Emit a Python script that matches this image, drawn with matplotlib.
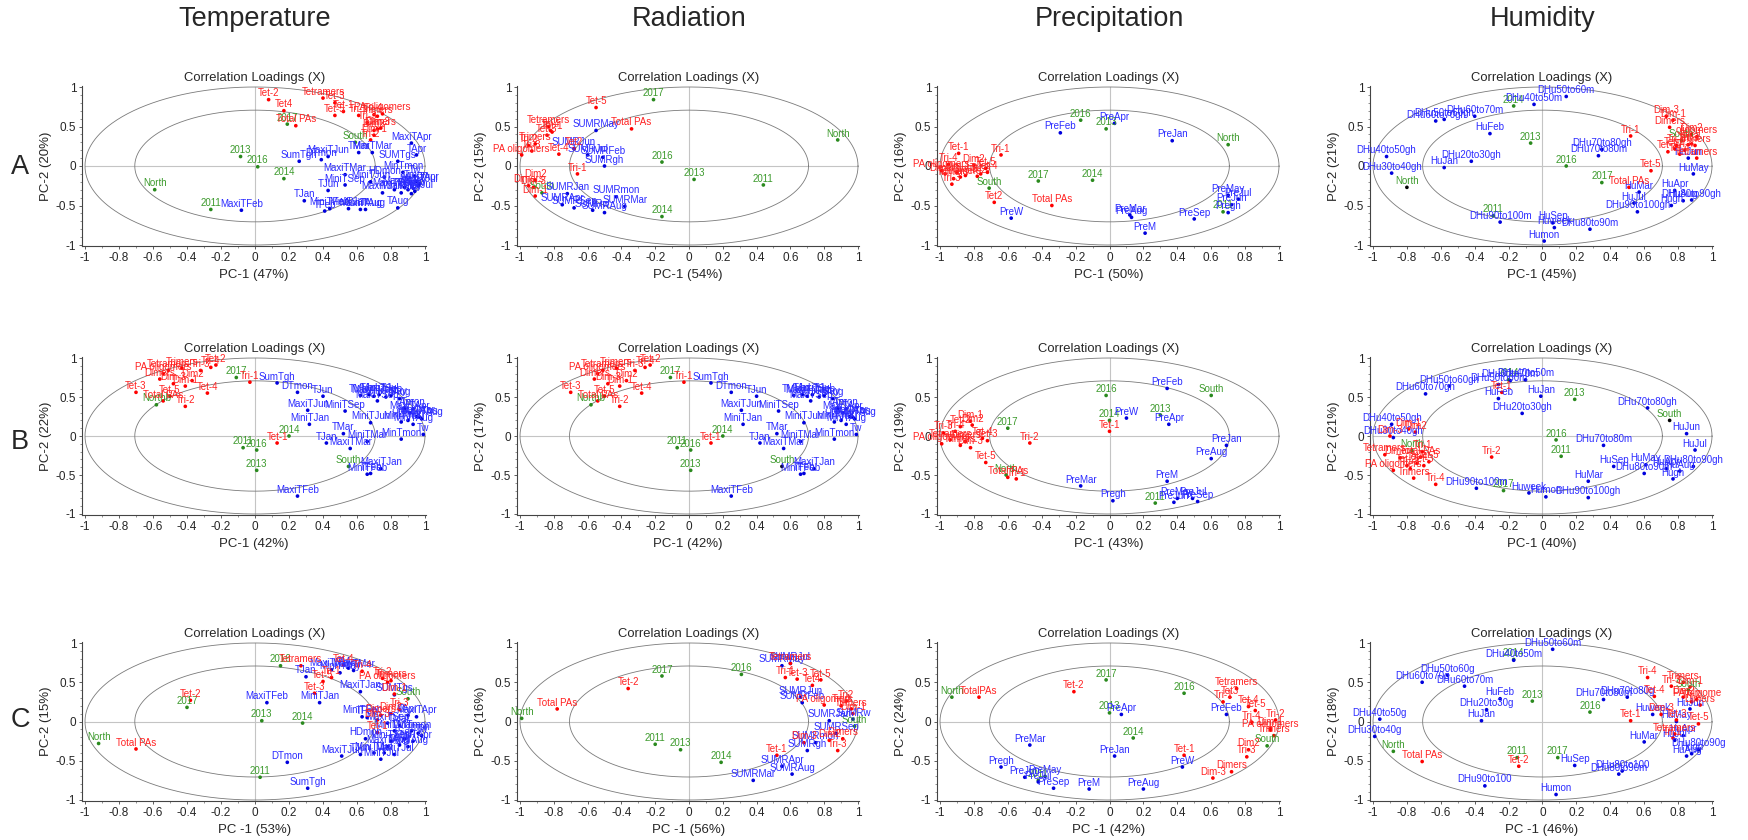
import matplotlib
matplotlib.use("Agg")
import matplotlib.pyplot as plt
import numpy as np

plt.rcParams['font.family'] = ['Liberation Sans', 'DejaVu Sans']
plt.rcParams['axes.unicode_minus'] = False

# ---------------- data ----------------
columns = ["Temperature", "Radiation", "Precipitation", "Humidity"]
rows = ["A", "B", "C"]
pc1_pct = [[47, 54, 50, 45], [42, 42, 43, 40], [53, 56, 42, 46]]
pc2_pct = [[20, 15, 16, 21], [22, 17, 19, 21], [15, 16, 24, 18]]
pc1_prefix = ["PC-1", "PC-1", "PC -1"]

# ---- Row A ----
A_T_green = [("North", -0.59, -0.30), ("2011", -0.26, -0.55), ("2013", -0.085, 0.12), ("2016", 0.016, -0.01),
             ("2014", 0.17, -0.16), ("2017", 0.19, 0.53), ("South", 0.59, 0.30)]
A_T_red = [("Tet-2", 0.08, 0.84), ("Tetramers", 0.40, 0.86), ("Tet-3", 0.47, 0.80), ("Tet4", 0.17, 0.70),
           ("Total PAs", 0.24, 0.51), ("Tet-1", 0.52, 0.69), ("Tet-5", 0.47, 0.64), ("Tri-1", 0.61, 0.64),
           ("Tri-4", 0.70, 0.65), ("Trimers", 0.72, 0.63), ("PA oligomers", 0.75, 0.66), ("Dimers", 0.74, 0.48),
           ("Dim-3", 0.72, 0.47), ("Dim2", 0.70, 0.45), ("Dim-1", 0.70, 0.39), ("Tri-2", 0.68, 0.33),
           ("Tri-3", 0.66, 0.55)]
A_T_blue = [("TJan", 0.29, -0.44), ("TFeb", 0.41, -0.57), ("TMar", 0.61, 0.17), ("TApr", 0.95, 0.14),
            ("TMay", 0.90, -0.30), ("TJun", 0.43, -0.31), ("TJul", 0.92, -0.35), ("TAug", 0.84, -0.53),
            ("TSep", 0.93, -0.28), ("MaxiTJan", 0.75, -0.34), ("MaxiTFeb", -0.08, -0.56), ("MaxiTMar", 0.53, -0.11),
            ("MaxiTApr", 0.92, 0.29), ("MaxiTMay", 0.88, -0.27), ("MaxiTJun", 0.43, 0.12), ("MaxiTJul", 0.96, -0.25),
            ("MaxiTAug", 0.62, -0.55), ("MaxiTSep", 0.82, -0.30), ("MiniTJan", 0.55, -0.54), ("MiniTFeb", 0.44, -0.54),
            ("MiniTMar", 0.69, 0.17), ("MiniTApr", 0.97, -0.22), ("MiniTMay", 0.86, -0.34), ("MiniTJun", 0.68, -0.20),
            ("MiniTJul", 0.94, -0.32), ("MiniTAug", 0.65, -0.55), ("MiniTSep", 0.53, -0.24), ("SumTgh", 0.26, 0.06),
            ("SUMTgs", 0.84, 0.06), ("DTmon", 0.39, 0.08), ("HDmon", 0.76, -0.14), ("MinTmon", 0.87, -0.08),
            ("Tmon", 0.95, -0.20), ("Tw", 0.94, -0.13)]

A_R_green = [("2017", -0.21, 0.84), ("North", 0.88, 0.33), ("2016", -0.16, 0.05), ("2013", 0.03, -0.17),
             ("2011", 0.44, -0.24), ("2014", -0.16, -0.64), ("South", -0.87, -0.34)]
A_R_red = [("Tet-5", -0.55, 0.74), ("Total PAs", -0.34, 0.47), ("Tetramers", -0.83, 0.50), ("Tri-4", -0.82, 0.45),
           ("Tet-1", -0.81, 0.43), ("Tet-3", -0.84, 0.39), ("Trimers", -0.91, 0.28), ("Tri-2", -0.95, 0.26),
           ("PA oligomers", -0.99, 0.14), ("Tri-3", -0.93, 0.19), ("Tet-4", -0.77, 0.15), ("Tet2", -0.68, 0.22),
           ("Tri-1", -0.66, -0.10), ("Dim2", -0.91, -0.18), ("Dimers", -0.95, -0.25), ("Dim-3", -0.92, -0.27),
           ("Dim-1", -0.91, -0.38)]
A_R_blue = [("SUMRMay", -0.55, 0.45), ("SUMRJun", -0.68, 0.22), ("SUMRFeb", -0.51, 0.11), ("SUMRJul", -0.60, 0.14),
            ("SUMRgh", -0.50, 0.0), ("SUMRJan", -0.72, -0.35), ("SUMRmon", -0.43, -0.39), ("SUMRMar", -0.38, -0.51),
            ("SUMRAug", -0.50, -0.59), ("SUMRApr", -0.75, -0.49), ("SUMRSep", -0.68, -0.53), ("SUMRw", -0.57, -0.56)]

A_P_green = [("2016", -0.17, 0.58), ("2013", -0.02, 0.47), ("North", 0.70, 0.27), ("2017", -0.42, -0.19),
             ("2014", -0.10, -0.18), ("South", -0.71, -0.28), ("2011", 0.67, -0.58)]
A_P_red = [("Tet-1", -0.89, 0.16), ("Tri-1", -0.64, 0.14), ("Tri-4", -0.95, 0.02), ("Dim2", -0.80, 0.01),
           ("Tet-5", -0.73, -0.03), ("Tet-4", -0.72, -0.08), ("PA oligomers", -0.99, -0.06), ("Tetramers", -0.88, -0.14),
           ("Tri-3", -0.93, -0.23), ("Tet2", -0.68, -0.46), ("Total PAs", -0.34, -0.50), ("Dimers", -0.97, -0.10),
           ("Dim-1", -0.90, -0.08), ("Dim-3", -0.85, -0.12), ("Tri-2", -0.78, -0.13), ("Trimers", -0.92, -0.16),
           ("Tet-3", -0.76, -0.10)]
A_P_blue = [("PreApr", 0.03, 0.54), ("PreFeb", -0.29, 0.42), ("PreJan", 0.37, 0.32), ("PreMay", 0.70, -0.37),
            ("PreJul", 0.76, -0.42), ("PreJun", 0.72, -0.49), ("Pregh", 0.70, -0.59), ("PreSep", 0.50, -0.67),
            ("PreMar", 0.12, -0.62), ("PreAug", 0.13, -0.65), ("PreM", 0.21, -0.85), ("PreW", -0.58, -0.66)]

A_H_green = [("2014", -0.17, 0.76), ("2013", -0.07, 0.29), ("2016", 0.14, 0.0), ("2017", 0.35, -0.21),
             ("South", 0.82, 0.32), ("2011", -0.29, -0.63), ("North", -0.80, -0.27)]
A_H_red = [("Dim-3", 0.73, 0.63), ("Dim-1", 0.77, 0.58), ("Dimers", 0.75, 0.49), ("Tri-1", 0.52, 0.38),
           ("oligomers", 0.91, 0.37), ("Dim2", 0.88, 0.40), ("Tri-2", 0.88, 0.28), ("Trimers", 0.90, 0.26),
           ("Tet-3", 0.86, 0.27), ("Tri-3", 0.79, 0.26), ("Tet-2", 0.74, 0.18), ("Tet-4", 0.81, 0.15),
           ("Tri-4", 0.84, 0.20), ("Tetramers", 0.91, 0.10), ("Tet-5", 0.64, -0.06), ("Total PAs", 0.51, -0.27),
           ("Tet-1", 0.78, 0.22)]
A_H_blue = [("DHu50to60m", 0.14, 0.88), ("DHu40to50m", -0.05, 0.78), ("DHu50to60gh", -0.58, 0.59),
            ("DHu60to70gh", -0.63, 0.57), ("DHu60to70m", -0.40, 0.63), ("HuFeb", -0.31, 0.41),
            ("DHu40to50gh", -0.92, 0.12), ("DHu30to40gh", -0.89, -0.09), ("HuJan", -0.58, -0.02),
            ("DHu20to30gh", -0.42, 0.06), ("DHu70to80gh", 0.35, 0.21), ("DHu70to80m", 0.33, 0.13),
            ("HuMay", 0.89, -0.10), ("HuJun", 0.86, 0.10), ("HuMar", 0.57, -0.33), ("HuApr", 0.78, -0.31),
            ("HuJul", 0.54, -0.47), ("DHu90to100gh", 0.56, -0.58), ("DHu80to90gh", 0.88, -0.43),
            ("HuAug", 0.83, -0.44), ("Hugh", 0.76, -0.50), ("HuSep", 0.06, -0.72), ("Huweek", 0.07, -0.78),
            ("DHu80to90m", 0.28, -0.80), ("DHu90to100m", -0.25, -0.71), ("Humon", 0.01, -0.95)]

# ---- Row B ----
B_T_green = [("2017", -0.11, 0.75), ("Northb", -0.58, 0.40), ("2014", 0.20, 0.0), ("2011", -0.07, -0.15),
             ("2016", 0.01, -0.18), ("2013", 0.01, -0.44), ("South", 0.55, -0.39)]
B_T_red = [("Tet-2", -0.23, 0.91), ("Tri-4", -0.26, 0.88), ("Trimers", -0.43, 0.87), ("Tetramers", -0.51, 0.84),
           ("PA oligomers", -0.54, 0.80), ("Dimers", -0.56, 0.73), ("Dim2", -0.37, 0.71), ("Dim-3", -0.48, 0.67),
           ("Dim-1", -0.41, 0.64), ("Tet-4", -0.28, 0.55), ("Tet-3", -0.70, 0.56), ("Tet-5", -0.50, 0.51),
           ("Total PAs", -0.54, 0.45), ("Tri-2", -0.41, 0.38), ("Tri-1", -0.03, 0.69), ("Tet-1", 0.13, -0.09),
           ("Tri-3", -0.32, 0.84)]
B_T_blue = [("SumTgh", 0.13, 0.68), ("DTmon", 0.25, 0.56), ("TJun", 0.40, 0.51), ("MaxiTJun", 0.31, 0.33),
            ("MiniTSep", 0.53, 0.32), ("MiniTJan", 0.32, 0.15), ("TMar", 0.52, 0.03), ("TJan", 0.42, -0.09),
            ("MaxiTMar", 0.56, -0.16), ("MiniTMar", 0.66, -0.07), ("MinTmon", 0.86, -0.04), ("Tw", 0.99, 0.02),
            ("MaxiTJan", 0.74, -0.42), ("TFeb", 0.68, -0.48), ("MiniTFeb", 0.66, -0.49), ("MaxiTFeb", 0.25, -0.77),
            ("TMay", 0.62, 0.52), ("TJul", 0.67, 0.53), ("MaxiTMay", 0.70, 0.51), ("MaxiTJul", 0.73, 0.53),
            ("MiniTMay", 0.77, 0.50), ("MaxiTSep", 0.72, 0.45), ("TSep", 0.80, 0.52), ("TAug", 0.85, 0.48),
            ("TApr", 0.88, 0.35), ("MaxiTApr", 0.91, 0.30), ("MiniTApr", 0.95, 0.25), ("Tmon", 0.93, 0.35),
            ("SUMTgs", 0.97, 0.24), ("HDmon", 0.90, 0.20), ("MiniTJul", 0.86, 0.18), ("MiniTAug", 0.93, 0.15),
            ("MaxiTAug", 0.98, 0.22), ("MiniTJun", 0.68, 0.17)]

B_P_green = [("2016", -0.02, 0.52), ("South", 0.60, 0.52), ("2013", 0.30, 0.27), ("2014", 0.0, 0.20),
             ("2017", -0.60, 0.10), ("North", -0.61, -0.50), ("2011", 0.27, -0.86)]
B_P_red = [("Dim-1", -0.82, 0.19), ("Dim2", -0.81, 0.14), ("Tet-2", -0.88, 0.12), ("Tri-4", -0.91, 0.06),
           ("Tri-3", -0.98, 0.04), ("Tet-4", -0.75, -0.03), ("Tet-3", -0.72, -0.06), ("PA oligomers", -0.99, -0.10),
           ("Tetramers", -0.94, -0.05), ("Trimers", -0.88, -0.12), ("Dimers", -0.85, -0.07), ("Dim-3", -0.82, -0.15),
           ("Tri-2", -0.47, -0.09), ("Tet-5", -0.73, -0.34), ("Tri-1", -0.55, -0.55), ("Total PAs", -0.60, -0.53),
           ("Tet-1", 0.0, 0.06)]
B_P_blue = [("PreFeb", 0.34, 0.61), ("PreW", 0.10, 0.23), ("PreApr", 0.35, 0.15), ("PreJan", 0.69, -0.12),
            ("PreAug", 0.60, -0.29), ("PreM", 0.34, -0.58), ("PreMar", -0.17, -0.64), ("Pregh", 0.02, -0.83),
            ("PreMay", 0.40, -0.80), ("PreJul", 0.49, -0.80), ("PreJun", 0.38, -0.85), ("PreSep", 0.52, -0.84)]

B_H_green = [("2014", -0.20, 0.72), ("2013", 0.19, 0.47), ("South", 0.75, 0.20), ("2016", 0.08, -0.05),
             ("2011", 0.11, -0.26), ("North", -0.77, -0.19), ("2017", -0.23, -0.70)]
B_H_red = [("Tet-1", -0.24, 0.56), ("Dim-1", -0.79, 0.09), ("Dim2", -0.75, 0.05), ("Tri-1", -0.71, -0.20),
           ("Tetramers", -0.93, -0.24), ("Dimers", -0.84, -0.28), ("Total PAs", -0.72, -0.27), ("Dim-3", -0.90, 0.0),
           ("PA oligomers", -0.88, -0.44), ("Trimers", -0.76, -0.54), ("Tri-4", -0.63, -0.62), ("Tri-2", -0.30, -0.27),
           ("Tet-3", -0.70, -0.38), ("Tet-2", -0.80, -0.38), ("Tet-4", -0.74, -0.35), ("Tet-5", -0.67, -0.33),
           ("Tri-3", -0.78, -0.42)]
B_H_blue = [("DHu40to50m", -0.10, 0.72), ("DHu50to60m", -0.26, 0.66), ("DHu60to70m", -0.19, 0.71),
            ("DHu50to60gh", -0.55, 0.64), ("DHu60to70gh", -0.69, 0.54), ("HuFeb", -0.26, 0.48),
            ("HuJan", -0.01, 0.51), ("DHu20to30gh", -0.12, 0.29), ("DHu70to80gh", 0.62, 0.36),
            ("DHu40to50gh", -0.89, 0.15), ("DHu30to40gh", -0.88, -0.02), ("HuJun", 0.85, 0.03),
            ("HuJul", 0.90, -0.18), ("DHu70to80m", 0.36, -0.12), ("HuSep", 0.42, -0.39), ("HuMay", 0.61, -0.37),
            ("DHu80to90m", 0.60, -0.48), ("DHu80to90gh", 0.89, -0.39), ("HuAug", 0.81, -0.45), ("Hugh", 0.77, -0.55),
            ("HuApr", 0.73, -0.42), ("HuMar", 0.27, -0.58), ("DHu90to100m", -0.39, -0.67), ("Huweek", -0.08, -0.73),
            ("Humon", 0.02, -0.78), ("DHu90to100gh", 0.27, -0.79)]

# ---- Row C ----
C_T_green = [("North", -0.92, -0.28), ("2017", -0.40, 0.18), ("2013", 0.04, 0.01), ("2014", 0.28, -0.02),
             ("2016", 0.15, 0.71), ("2011", 0.03, -0.71), ("South", 0.90, 0.29)]
C_T_red = [("Total PAs", -0.70, -0.35), ("Tet-2", -0.38, 0.27), ("Tetramers", 0.27, 0.71), ("Tet-4", 0.52, 0.72),
           ("Tet-5", 0.40, 0.51), ("Tri-1", 0.45, 0.56), ("Tet-3", 0.35, 0.36), ("Tri-4", 0.63, 0.64),
           ("Tri-2", 0.75, 0.55), ("PA oligomers", 0.78, 0.50), ("Trimers", 0.80, 0.52), ("Dim-1", 0.82, 0.35),
           ("Tri-3", 0.85, 0.15), ("Dimers", 0.74, 0.08), ("Dim-3", 0.72, 0.02), ("Tet-1", 0.72, -0.14),
           ("Dim2", 0.80, 0.10)]
C_T_blue = [("TJan", 0.30, 0.57), ("MaxiTMay", 0.45, 0.66), ("MiniTMay", 0.50, 0.62), ("MaxiTMar", 0.58, 0.65),
            ("TMay", 0.55, 0.68), ("MaxiTJan", 0.62, 0.38), ("MiniTJan", 0.38, 0.24), ("MaxiTFeb", 0.07, 0.24),
            ("SUMTgs", 0.82, 0.34), ("DTmon", 0.19, -0.52), ("SumTgh", 0.31, -0.85), ("MaxiTJun", 0.51, -0.44),
            ("HDmon", 0.65, -0.22), ("MiniTFeb", 0.63, 0.06), ("TFeb", 0.66, 0.05), ("MaxiTApr", 0.95, 0.06),
            ("TApr", 0.90, 0.08), ("MaxiTSep", 0.78, -0.02), ("TMar", 0.85, -0.05), ("MiniTMar", 0.82, -0.12),
            ("MinTmon", 0.92, -0.12), ("Tmon", 0.96, -0.15), ("Tw", 0.98, -0.18), ("TSep", 0.88, -0.22),
            ("MiniTSep", 0.80, -0.25), ("MaxiTAug", 0.78, -0.32), ("TAug", 0.85, -0.30), ("MiniTAug", 0.90, -0.32),
            ("TJul", 0.76, -0.40), ("MaxiTJul", 0.82, -0.42), ("MiniTJul", 0.74, -0.48), ("TJun", 0.62, -0.42),
            ("MiniTJun", 0.70, -0.40), ("MiniTApr", 0.93, -0.25)]

C_R_green = [("North", -0.99, 0.04), ("2017", -0.16, 0.58), ("2016", 0.31, 0.60), ("2011", -0.20, -0.29),
             ("2013", -0.05, -0.36), ("2014", 0.19, -0.52), ("South", 0.98, -0.06)]
C_R_red = [("Total PAs", -0.78, 0.16), ("Tet-2", -0.36, 0.42), ("Tetramers", 0.60, 0.74), ("Tri-1", 0.57, 0.56),
           ("Tet-3", 0.64, 0.54), ("Tet-5", 0.78, 0.53), ("Tet4", 0.73, 0.46), ("Tri2", 0.93, 0.26),
           ("PA oligomers", 0.80, 0.21), ("Trimers", 0.96, 0.16), ("Dim-1", 0.97, 0.10), ("Dim-3", 0.68, -0.27),
           ("Dim2", 0.83, -0.24), ("Dimers", 0.91, -0.22), ("Tri-3", 0.88, -0.37), ("Tet-1", 0.52, -0.43),
           ("Tri-4", 0.90, 0.20)]
C_R_blue = [("SUMRMay", 0.55, 0.71), ("SUMRJul", 0.60, 0.74), ("SUMRJun", 0.66, 0.31), ("SUMRFeb", 0.67, 0.24),
            ("SUMRJan", 0.83, 0.01), ("SUMRw", 0.97, 0.03), ("SUMRSep", 0.87, -0.15), ("SUMRmon", 0.75, -0.27),
            ("SUMRgh", 0.70, -0.37), ("SUMRApr", 0.55, -0.57), ("SUMRAug", 0.61, -0.67), ("SUMRMar", 0.38, -0.75)]

C_P_green = [("North", -0.93, 0.31), ("2017", -0.02, 0.53), ("2016", 0.44, 0.36), ("2013", 0.0, 0.11),
             ("2014", 0.14, -0.21), ("South", 0.93, -0.31), ("2011", -0.42, -0.75)]
C_P_red = [("TotalPAs", -0.77, 0.31), ("Tet-2", -0.21, 0.38), ("Tetramers", 0.75, 0.42), ("Tet3", 0.71, 0.31),
           ("Tri-1", 0.67, 0.25), ("Tet-4", 0.82, 0.19), ("Tet-5", 0.86, 0.14), ("Tri-4", 0.84, -0.01),
           ("Tri-2", 0.98, 0.02), ("Dim-1", 0.95, -0.09), ("PA oligomers", 0.95, -0.11), ("Trimers", 0.97, -0.18),
           ("Dim2", 0.82, -0.36), ("Tri-3", 0.81, -0.45), ("Tet-1", 0.44, -0.43), ("Dimers", 0.72, -0.64),
           ("Dim-3", 0.61, -0.72)]
C_P_blue = [("PreFeb", 0.69, 0.09), ("PreApr", 0.07, 0.09), ("PreMar", -0.47, -0.30), ("PreJan", 0.03, -0.44),
            ("PreW", 0.43, -0.58), ("Pregh", -0.64, -0.58), ("PreJun", -0.50, -0.71), ("PreMay", -0.38, -0.70),
            ("PreJul", -0.42, -0.77), ("PreSep", -0.33, -0.85), ("PreM", -0.12, -0.86), ("PreAug", 0.20, -0.86)]

C_H_green = [("2014", -0.17, 0.79), ("2013", -0.06, 0.26), ("2016", 0.28, 0.12), ("North", -0.88, -0.38),
             ("2011", -0.15, -0.46), ("2017", 0.09, -0.46), ("South", 0.86, 0.40)]
C_H_red = [("Tri-4", 0.62, 0.56), ("Trimers", 0.83, 0.50), ("Tri-3", 0.76, 0.45), ("Dim-1", 0.87, 0.44),
           ("Tet-4", 0.66, 0.32), ("Dim2", 0.83, 0.31), ("PA oligome", 0.91, 0.28), ("Dimers", 0.93, 0.21),
           ("Dim-3", 0.70, 0.09), ("Tet-1", 0.52, 0.01), ("Tet-3", 0.79, 0.02), ("Tet-5", 0.92, -0.03),
           ("Tetramers", 0.78, -0.16), ("Tri-1", 0.77, -0.21), ("Total PAs", -0.71, -0.51), ("Tet-2", -0.14, -0.57),
           ("Tri-2", 0.88, 0.25)]
C_H_blue = [("DHu50to60m", 0.06, 0.92), ("DHu40to50m", -0.17, 0.78), ("DHu50to60g", -0.56, 0.59),
            ("DHu60to70g", -0.71, 0.50), ("DHu60to70m", -0.46, 0.45), ("HuFeb", -0.25, 0.29),
            ("DHu20to30g", -0.33, 0.15), ("HuJan", -0.36, 0.01), ("DHu40to50g", -0.96, 0.03),
            ("DHu30to40g", -0.99, -0.19), ("DHu70to80g", 0.50, 0.31), ("DHu70to80m", 0.36, 0.28),
            ("Huweek", 0.65, 0.09), ("HuJun", 0.87, 0.16), ("HuMay", 0.79, 0.0), ("HuApr", 0.83, -0.18),
            ("HuJul", 0.78, -0.24), ("HuMar", 0.60, -0.26), ("DHu80to90g", 0.92, -0.36), ("Hugh", 0.88, -0.41),
            ("HuAug", 0.85, -0.44), ("HuSep", 0.19, -0.56), ("DHu80to100", 0.47, -0.63), ("DHu80to90m", 0.45, -0.67),
            ("DHu90to100", -0.34, -0.82), ("Humon", 0.08, -0.93)]

panels = {
    (0, 0): (A_T_red, A_T_blue, A_T_green), (0, 1): (A_R_red, A_R_blue, A_R_green),
    (0, 2): (A_P_red, A_P_blue, A_P_green), (0, 3): (A_H_red, A_H_blue, A_H_green),
    (1, 0): (B_T_red, B_T_blue, B_T_green), (1, 1): (B_T_red, B_T_blue, B_T_green),
    (1, 2): (B_P_red, B_P_blue, B_P_green), (1, 3): (B_H_red, B_H_blue, B_H_green),
    (2, 0): (C_T_red, C_T_blue, C_T_green), (2, 1): (C_R_red, C_R_blue, C_R_green),
    (2, 2): (C_P_red, C_P_blue, C_P_green), (2, 3): (C_H_red, C_H_blue, C_H_green),
}
black_dots = {(0, 3): ["North"], (1, 1): ["South"], (1, 3): ["South"]}

# ---------------- layout / style ----------------
FIG_W, FIG_H, DPI = 1749, 840, 100
XL0, XL1 = -1.015, 1.006
YL0, YL1 = -1.015, 1.01
col_px = [(85, 425), (520, 858), (940, 1279), (1373, 1712)]   # pixel of x=-1, x=1
row_px = [(87, 245), (358, 514), (643, 800)]                  # pixel of y=1, y=-1

RED_T, RED_D = "#ff2222", "#ff0000"
BLUE_T, BLUE_D = "#2b2bff", "#0000dd"
GREEN_T, GREEN_D = "#3c9a2c", "#2a8a1e"
DARK = "#262626"


def rect(c, r):
    x0, x1 = col_px[c]
    sx = (x1 - x0) / 2
    left = x0 + (XL0 + 1) * sx
    right = x1 + (XL1 - 1) * sx
    t, b = row_px[r]
    sy = (b - t) / 2
    top = t - (YL1 - 1) * sy
    bottom = b + (-1 - YL0) * sy
    return [left / FIG_W, 1 - bottom / FIG_H, (right - left) / FIG_W, (bottom - top) / FIG_H]


def fmt(v):
    v = round(v, 2)
    if abs(v) < 1e-9:
        return "0"
    return f"{v:g}"


fig = plt.figure(figsize=(FIG_W / DPI, FIG_H / DPI), dpi=DPI)
theta = np.linspace(0, 2 * np.pi, 500)

for (r, c), (red, blue, green) in panels.items():
    ax = fig.add_axes(rect(c, r))
    ax.set_xlim(XL0, XL1)
    ax.set_ylim(YL0, YL1)
    for sp in ("top", "right"):
        ax.spines[sp].set_visible(False)
    for sp in ("left", "bottom"):
        ax.spines[sp].set_color("#444444")
        ax.spines[sp].set_linewidth(0.8)
    ax.plot([-1, 1], [0, 0], color="#c4c4c4", lw=0.8, zorder=0)
    ax.plot([0, 0], [-1, 1], color="#c4c4c4", lw=0.8, zorder=0)
    for rad in (1.0, np.sqrt(0.5)):
        ax.plot(rad * np.cos(theta), rad * np.sin(theta), color="#7a7a7a", lw=0.6, zorder=1)

    blk = black_dots.get((r, c), [])
    for pts, tcol, dcol in ((green, GREEN_T, GREEN_D), (blue, BLUE_T, BLUE_D), (red, RED_T, RED_D)):
        labs = [p[0] for p in pts]
        xs = [p[1] for p in pts]
        ys = [p[2] for p in pts]
        cols = ["black" if l in blk else dcol for l in labs]
        ax.scatter(xs, ys, s=7, c=cols, linewidths=0, zorder=3)
        for l, x, y in zip(labs, xs, ys):
            ax.annotate(l, (x, y), xytext=(0, 1.0), textcoords="offset points",
                        ha="center", va="bottom", fontsize=7, color=tcol, zorder=4)

    xt = np.round(np.arange(-1, 1.001, 0.2), 2)
    ax.set_xticks(xt)
    ax.set_xticklabels([fmt(v) for v in xt])
    yt = [-1, -0.5, 0, 0.5, 1]
    ax.set_yticks(yt)
    ax.set_yticklabels([fmt(v) for v in yt])
    ax.set_xticks(np.arange(-1, 1.001, 0.1), minor=True)
    ax.set_yticks(np.arange(-1, 1.001, 0.1), minor=True)
    ax.tick_params(which="major", length=2.5, width=0.6, colors="#444444", labelcolor=DARK,
                   labelsize=8.5, pad=2)
    ax.tick_params(which="minor", length=1.3, width=0.5, colors="#666666")

    ax.set_title("Correlation Loadings (X)", fontsize=9.4, color=DARK, pad=4)
    ax.set_xlabel(f"{pc1_prefix[r]} ({pc1_pct[r][c]}%)", fontsize=9.5, color=DARK, labelpad=3)
    ax.set_ylabel(f"PC-2 ({pc2_pct[r][c]}%)", fontsize=9.5, color=DARK, labelpad=3)

for c, name in enumerate(columns):
    cx = (col_px[c][0] + col_px[c][1]) / 2
    fig.text(cx / FIG_W, 1 - 19 / FIG_H, name, fontsize=19.5, color=DARK, ha="center", va="center")

row_letter_y = [167, 442, 720]
for r, name in enumerate(rows):
    fig.text(20 / FIG_W, 1 - row_letter_y[r] / FIG_H, name, fontsize=19.5, color=DARK, ha="center", va="center")

fig.savefig("out.png", dpi=DPI, facecolor="white")
